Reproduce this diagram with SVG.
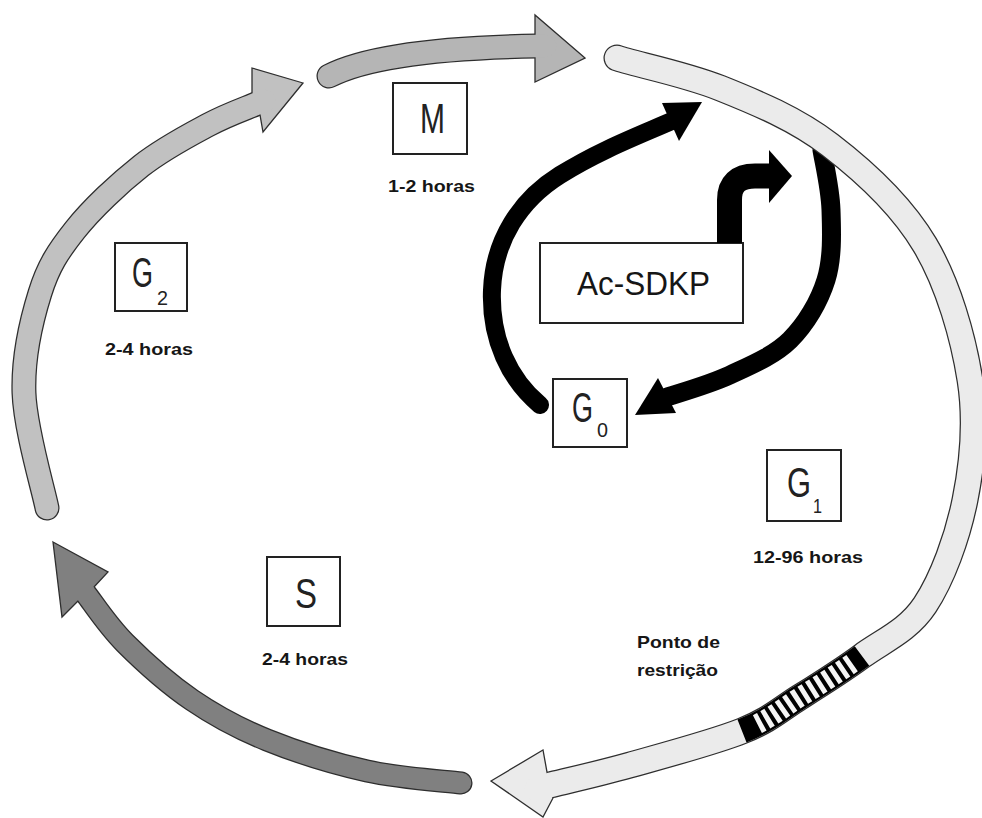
<svg xmlns="http://www.w3.org/2000/svg" width="982" height="818" viewBox="0 0 982 818">
<style>
.box{fill:#fff;stroke:#222;stroke-width:2}
.big{font-family:"Liberation Sans",Arial,sans-serif;font-size:42px;fill:#222}
.sub{font-family:"Liberation Sans",Arial,sans-serif;font-size:21px;fill:#222}
.lbl{font-family:"Liberation Sans",Arial,sans-serif;font-size:16.5px;font-weight:bold;fill:#161616}
.ac{font-family:"Liberation Sans",Arial,sans-serif;font-size:33px;fill:#161616}
.edge{fill:none;stroke:#2e2e2e;stroke-linecap:round}
.inM{fill:none;stroke:#b5b5b5;stroke-linecap:round}
.inG2{fill:none;stroke:#c1c1c1;stroke-linecap:round}
.inS{fill:none;stroke:#808080;stroke-linecap:round}
.inG1{fill:none;stroke:#ebebeb;stroke-linecap:round}
.head{stroke:#2e2e2e;stroke-width:1.3;stroke-linejoin:miter}
.blk{fill:none;stroke:#000;stroke-linecap:round}
</style>
<rect width="982" height="818" fill="#fff"/>
<g id="nodes">
  <g id="node-M">
    <rect class="box" x="393" y="83" width="74" height="71"/>
    <text class="big" x="420" y="133" textLength="25" lengthAdjust="spacingAndGlyphs">M</text>
    <text class="lbl" x="388" y="192" textLength="87" lengthAdjust="spacingAndGlyphs">1-2 horas</text>
  </g>
  <g id="node-G2">
    <rect class="box" x="115" y="243" width="72" height="68"/>
    <text class="big" x="132" y="287" textLength="21" lengthAdjust="spacingAndGlyphs">G</text>
    <text class="sub" x="157" y="305" textLength="11" lengthAdjust="spacingAndGlyphs">2</text>
    <text class="lbl" x="105" y="355" textLength="88" lengthAdjust="spacingAndGlyphs">2-4 horas</text>
  </g>
  <g id="node-S">
    <rect class="box" x="267" y="557" width="73" height="69"/>
    <text class="big" x="295" y="608" textLength="22" lengthAdjust="spacingAndGlyphs">S</text>
    <text class="lbl" x="262" y="665" textLength="86" lengthAdjust="spacingAndGlyphs">2-4 horas</text>
  </g>
  <g id="node-G0">
    <rect class="box" x="553" y="379" width="74" height="68"/>
    <text class="big" x="572" y="422" textLength="21" lengthAdjust="spacingAndGlyphs">G</text>
    <text class="sub" x="597" y="437" textLength="11" lengthAdjust="spacingAndGlyphs">0</text>
  </g>
  <g id="node-G1">
    <rect class="box" x="767" y="450" width="74" height="71"/>
    <text class="big" x="787" y="497" textLength="24" lengthAdjust="spacingAndGlyphs">G</text>
    <text class="sub" x="813" y="513" textLength="9" lengthAdjust="spacingAndGlyphs">1</text>
    <text class="lbl" x="753" y="563" textLength="110" lengthAdjust="spacingAndGlyphs">12-96 horas</text>
  </g>
  <g id="node-restricao">
    <text class="lbl" x="637" y="648" textLength="83" lengthAdjust="spacingAndGlyphs">Ponto de</text>
    <text class="lbl" x="637" y="676" textLength="81" lengthAdjust="spacingAndGlyphs">restrição</text>
  </g>
  <g id="node-AcSDKP">
    <rect class="box" x="540" y="243" width="203" height="80"/>
    <text class="ac" x="577" y="295" textLength="133" lengthAdjust="spacingAndGlyphs">Ac-SDKP</text>
  </g>
</g>
<g id="connectors">
  <path class="blk" stroke-width="18" d="M540,405 C510,380 490,340 492,290 C494,240 520,200 560,175 C600,150 640,135 674,120"/>
  <polygon points="702,102 662,103 679,141" fill="#000"/>
  <path class="blk" stroke-width="19" d="M822,150 C823.5,160 830.3,188.3 831,210 C831.7,231.7 832.8,258.3 826,280 C819.2,301.7 806,324.2 790,340 C774,355.8 750.3,365.5 730,375 C709.7,384.5 678.3,393.3 664,398"/>
  <polygon points="635,415 658,378 676,413" fill="#000"/>
  <path d="M729.5,243 V200 Q729.5,176 755,176 H772" fill="none" stroke="#000" stroke-width="25"/>
  <polygon points="792,176 769,150 769,203" fill="#000"/>

  <g id="arrow-M">
    <path class="edge" stroke-width="25" d="M329,76 C360,60 420,48 537,46"/>
    <polygon class="head" fill="#b5b5b5" points="585,58 535,15 535,34 535,59 535,82"/>
    <path class="inM" stroke-width="22.5" d="M329,76 C360,60 420,48 537,46 L545,46"/>
  </g>
  <g id="arrow-G2">
    <path class="edge" stroke-width="25" d="M47,508 C43.2,488.8 25.2,428.8 24,393 C22.8,357.2 31.5,320.2 40,293 C48.5,265.8 58.2,251.2 75,230 C91.8,208.8 118.8,183.5 141,166 C163.2,148.5 188.8,135.3 208,125 C227.2,114.7 248,107.5 256,104"/>
    <polygon class="head" fill="#c1c1c1" points="303,83 252,68 252,93 260,115 263,132"/>
    <path class="inG2" stroke-width="22.5" d="M47,508 C43.2,488.8 25.2,428.8 24,393 C22.8,357.2 31.5,320.2 40,293 C48.5,265.8 58.2,251.2 75,230 C91.8,208.8 118.8,183.5 141,166 C163.2,148.5 188.8,135.3 208,125 C227.2,114.7 248,107.5 256,104 L264,101"/>
  </g>
  <g id="arrow-S">
    <path class="edge" stroke-width="23" d="M461,783 C445.3,781 399.3,778.2 367,771 C334.7,763.8 296.2,751.8 267,740 C237.8,728.2 215.7,716.2 192,700 C168.3,683.8 142.7,660.7 125,643 C107.3,625.3 92.5,602.2 86,594"/>
    <polygon class="head" fill="#808080" points="53,542 108,572 94,587 78,601 62,617"/>
    <path class="inS" stroke-width="20.5" d="M461,783 C445.3,781 399.3,778.2 367,771 C334.7,763.8 296.2,751.8 267,740 C237.8,728.2 215.7,716.2 192,700 C168.3,683.8 142.7,660.7 125,643 C107.3,625.3 92.5,602.2 86,594 L81,587"/>
  </g>
  <g id="arrow-G1">
    <path class="edge" stroke-width="27" d="M617,58 C630,63 683.7,73.5 720,88 C756.3,102.5 795.8,118.8 830,145 C864.2,171.2 901.7,205.8 925,245 C948.3,284.2 963.3,337.5 970,380 C976.7,422.5 972.5,462.5 965,500 C957.5,537.5 942.2,579 925,605 C907.8,631 882.8,640.7 862,656 C841.2,671.3 820,684.5 800,697 C780,709.5 770.3,719.7 742,731 C713.7,742.3 662,756 630,765 C598,774 563.3,781.7 550,785"/>
    <polygon class="head" fill="#ebebeb" points="491,781 543,750 547,772 553,798 543,817"/>
    <path class="inG1" stroke-width="24.5" d="M617,58 C630,63 683.7,73.5 720,88 C756.3,102.5 795.8,118.8 830,145 C864.2,171.2 901.7,205.8 925,245 C948.3,284.2 963.3,337.5 970,380 C976.7,422.5 972.5,462.5 965,500 C957.5,537.5 942.2,579 925,605 C907.8,631 882.8,640.7 862,656 C841.2,671.3 820,684.5 800,697 C780,709.5 770.3,719.7 742,731 C713.7,742.3 662,756 630,765 C598,774 563.3,781.7 550,785 L537,789"/>
    <path d="M862,656 C841.2,671.3 820,684.5 800,697 C780,709.5 770.3,719.7 742,731" fill="none" stroke="#000" stroke-width="24.5"/>
    <path d="M862,656 C841.2,671.3 820,684.5 800,697 C780,709.5 770.3,719.7 742,731" fill="none" stroke="#f4f4f4" stroke-width="20" stroke-dasharray="0 12 5 4 5 4 5 4 5 4 5 4 5 4 5 4 5 4 5 4 5 4 5 4 5 4 5 60"/>
  </g>
</g>
</svg>
